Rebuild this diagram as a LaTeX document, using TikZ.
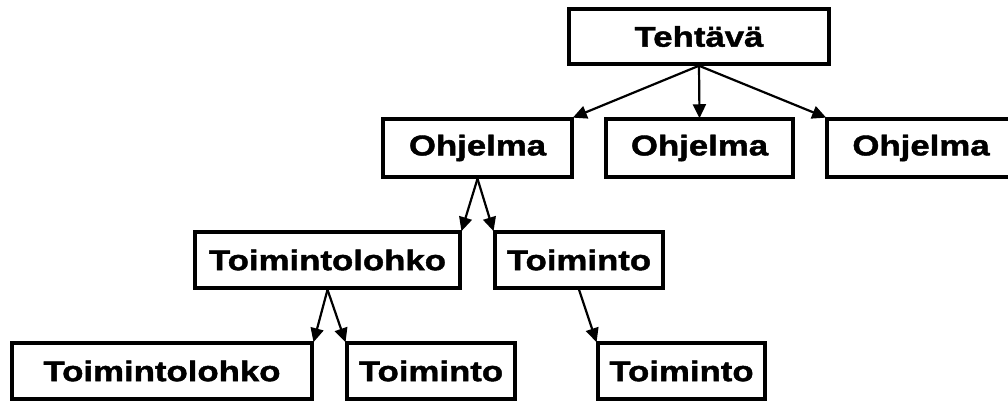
\documentclass[tikz,border=0pt]{standalone}
\usepackage{fontspec}
\setmainfont{Liberation Sans}[FakeStretch=1.22,BoldFeatures={FakeBold=1.5}]
\usetikzlibrary{arrows.meta}
\begin{document}
\begin{tikzpicture}[x=1pt,y=-1pt,
  box/.style={draw=black, line width=3.5pt, fill=white, inner sep=0pt,
    minimum height=#1, font=\fontsize{28.5}{30}\selectfont\bfseries},
  box/.default=56pt,
  conn/.style={line width=2.2pt, -{Triangle[length=14pt,width=13pt]}, shorten >=-1pt}]
\useasboundingbox (0,0) rectangle (1008,401);
\clip (0,0) rectangle (1008,401);
\node[box=55pt, minimum width=260pt] (teh) at (699,36.5) {Tehtävä};
\node[box=58pt, minimum width=189pt] (oh1) at (477.5,148) {Ohjelma};
\node[box=58pt, minimum width=187pt] (oh2) at (699.5,148) {Ohjelma};
\node[box=58pt, minimum width=188pt] (oh3) at (921,148) {Ohjelma};
\node[box, minimum width=265pt] (tl1) at (327.5,260) {Toimintolohko};
\node[box, minimum width=168pt] (to1) at (579,260) {Toiminto};
\node[box, minimum width=300pt] (tl2) at (162,371) {Toimintolohko};
\node[box, minimum width=168pt] (to2) at (431,371) {Toiminto};
\node[box, minimum width=167pt] (to3) at (681.5,371) {Toiminto};
\draw[conn] (teh.south) -- (oh1.north east);
\draw[conn] (teh.south) -- (oh2.north);
\draw[conn] (teh.south) -- (oh3.north west);
\draw[conn] (oh1.south) -- (tl1.north east);
\draw[conn] (oh1.south) -- (to1.north west);
\draw[conn] (tl1.south) -- (tl2.north east);
\draw[conn] (tl1.south) -- (to2.north west);
\draw[conn] (to1.south) -- (to3.north west);
\end{tikzpicture}
\end{document}
